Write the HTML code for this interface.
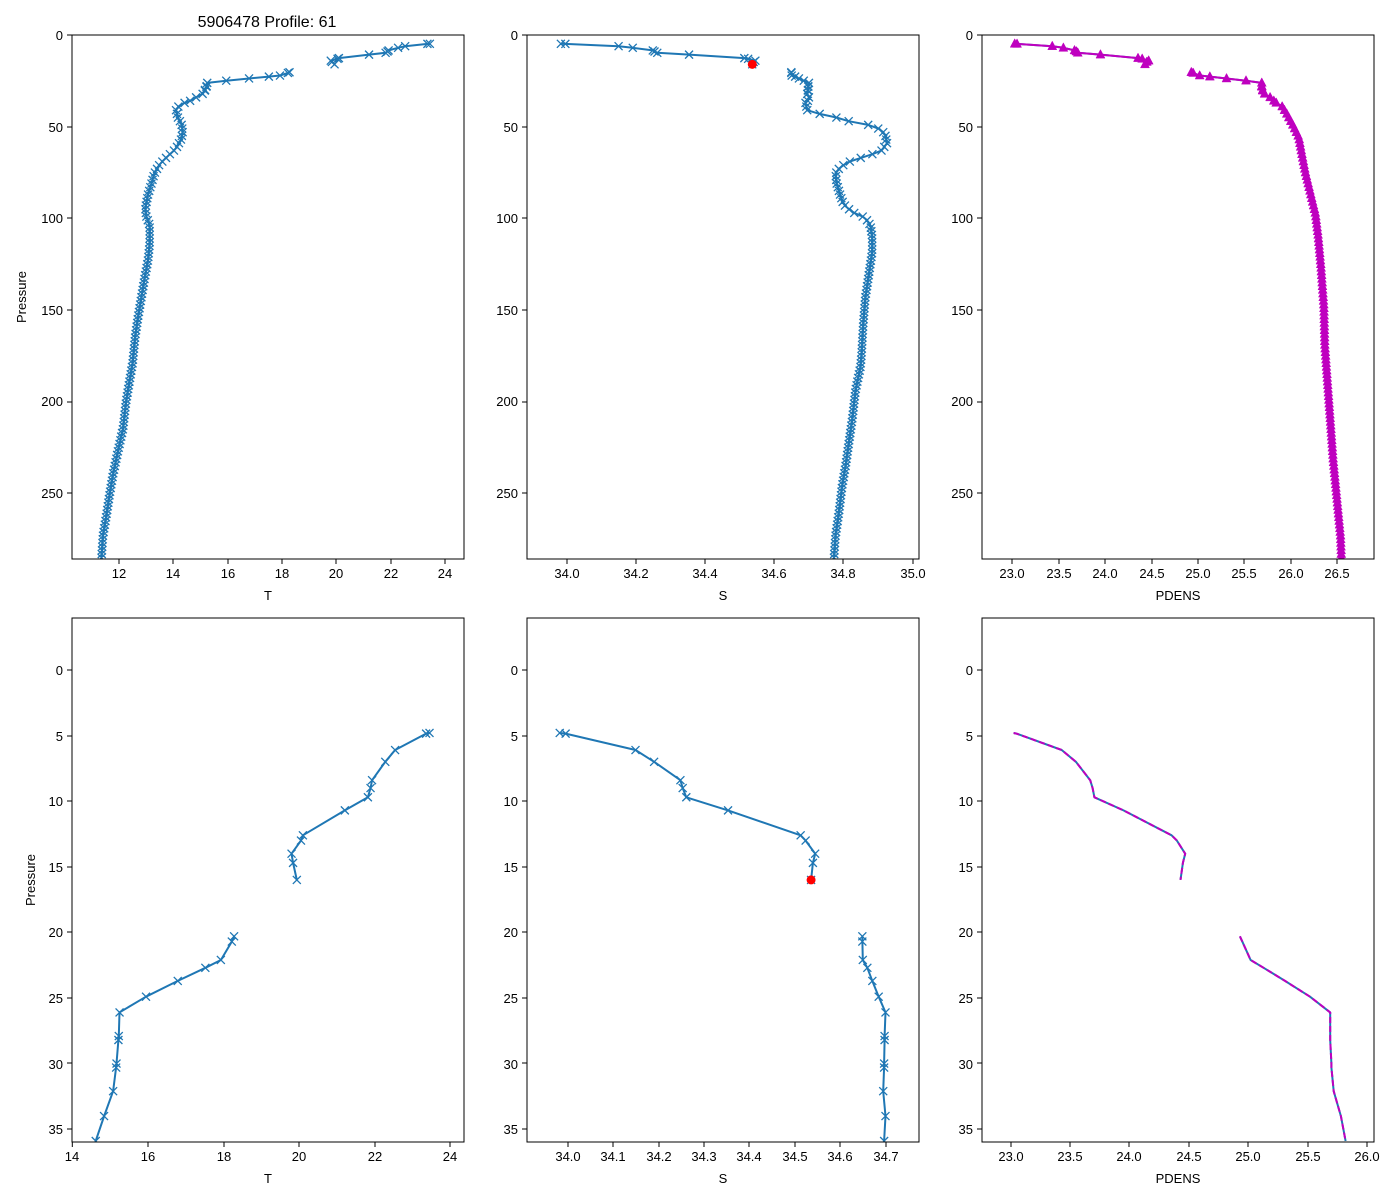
<!DOCTYPE html>
<html><head><meta charset="utf-8"><style>
body{margin:0;background:#fff}
svg{display:block}
text{font-family:"Liberation Sans","DejaVu Sans",sans-serif;font-size:13px;fill:#000}
</style></head><body>
<svg id="s" width="1400" height="1200" xmlns="http://www.w3.org/2000/svg">
<rect width="1400" height="1200" fill="#fff"/>
<text x="267" y="27" text-anchor="middle" style="font-size:16px">5906478 Profile: 61</text>
<text transform="translate(26,297) rotate(-90)" text-anchor="middle">Pressure</text>
<text transform="translate(35,880) rotate(-90)" text-anchor="middle">Pressure</text>
<text x="268" y="600" text-anchor="middle">T</text>
<text x="723" y="600" text-anchor="middle">S</text>
<text x="1178" y="600" text-anchor="middle">PDENS</text>
<text x="268" y="1183" text-anchor="middle">T</text>
<text x="723" y="1183" text-anchor="middle">S</text>
<text x="1178" y="1183" text-anchor="middle">PDENS</text>
<g id="ticks" stroke="#000" stroke-width="1"></g>
<g id="lbl">
<!-- top x labels -->
<text x="119" y="578" text-anchor="middle">12</text><text x="173" y="578" text-anchor="middle">14</text><text x="228" y="578" text-anchor="middle">16</text><text x="282" y="578" text-anchor="middle">18</text><text x="336" y="578" text-anchor="middle">20</text><text x="391" y="578" text-anchor="middle">22</text><text x="445" y="578" text-anchor="middle">24</text>
<text x="567" y="578" text-anchor="middle">34.0</text><text x="636" y="578" text-anchor="middle">34.2</text><text x="705" y="578" text-anchor="middle">34.4</text><text x="774" y="578" text-anchor="middle">34.6</text><text x="843" y="578" text-anchor="middle">34.8</text><text x="913" y="578" text-anchor="middle">35.0</text>
<text x="1012" y="578" text-anchor="middle">23.0</text><text x="1059" y="578" text-anchor="middle">23.5</text><text x="1105" y="578" text-anchor="middle">24.0</text><text x="1152" y="578" text-anchor="middle">24.5</text><text x="1198" y="578" text-anchor="middle">25.0</text><text x="1244" y="578" text-anchor="middle">25.5</text><text x="1291" y="578" text-anchor="middle">26.0</text><text x="1337" y="578" text-anchor="middle">26.5</text>
<!-- bottom x labels -->
<text x="72" y="1161" text-anchor="middle">14</text><text x="148" y="1161" text-anchor="middle">16</text><text x="224" y="1161" text-anchor="middle">18</text><text x="299" y="1161" text-anchor="middle">20</text><text x="375" y="1161" text-anchor="middle">22</text><text x="450" y="1161" text-anchor="middle">24</text>
<text x="568" y="1161" text-anchor="middle">34.0</text><text x="613" y="1161" text-anchor="middle">34.1</text><text x="659" y="1161" text-anchor="middle">34.2</text><text x="704" y="1161" text-anchor="middle">34.3</text><text x="749" y="1161" text-anchor="middle">34.4</text><text x="795" y="1161" text-anchor="middle">34.5</text><text x="840" y="1161" text-anchor="middle">34.6</text><text x="886" y="1161" text-anchor="middle">34.7</text>
<text x="1011" y="1161" text-anchor="middle">23.0</text><text x="1070" y="1161" text-anchor="middle">23.5</text><text x="1129" y="1161" text-anchor="middle">24.0</text><text x="1189" y="1161" text-anchor="middle">24.5</text><text x="1248" y="1161" text-anchor="middle">25.0</text><text x="1308" y="1161" text-anchor="middle">25.5</text><text x="1367" y="1161" text-anchor="middle">26.0</text>
<!-- top y labels -->
<text x="63" y="40" text-anchor="end">0</text><text x="63" y="132" text-anchor="end">50</text><text x="63" y="223" text-anchor="end">100</text><text x="63" y="315" text-anchor="end">150</text><text x="63" y="406" text-anchor="end">200</text><text x="63" y="498" text-anchor="end">250</text>
<text x="518" y="40" text-anchor="end">0</text><text x="518" y="132" text-anchor="end">50</text><text x="518" y="223" text-anchor="end">100</text><text x="518" y="315" text-anchor="end">150</text><text x="518" y="406" text-anchor="end">200</text><text x="518" y="498" text-anchor="end">250</text>
<text x="973" y="40" text-anchor="end">0</text><text x="973" y="132" text-anchor="end">50</text><text x="973" y="223" text-anchor="end">100</text><text x="973" y="315" text-anchor="end">150</text><text x="973" y="406" text-anchor="end">200</text><text x="973" y="498" text-anchor="end">250</text>
<!-- bottom y labels -->
<text x="63" y="675" text-anchor="end">0</text><text x="63" y="741" text-anchor="end">5</text><text x="63" y="806" text-anchor="end">10</text><text x="63" y="872" text-anchor="end">15</text><text x="63" y="937" text-anchor="end">20</text><text x="63" y="1003" text-anchor="end">25</text><text x="63" y="1069" text-anchor="end">30</text><text x="63" y="1134" text-anchor="end">35</text>
<text x="518" y="675" text-anchor="end">0</text><text x="518" y="741" text-anchor="end">5</text><text x="518" y="806" text-anchor="end">10</text><text x="518" y="872" text-anchor="end">15</text><text x="518" y="937" text-anchor="end">20</text><text x="518" y="1003" text-anchor="end">25</text><text x="518" y="1069" text-anchor="end">30</text><text x="518" y="1134" text-anchor="end">35</text>
<text x="973" y="675" text-anchor="end">0</text><text x="973" y="741" text-anchor="end">5</text><text x="973" y="806" text-anchor="end">10</text><text x="973" y="872" text-anchor="end">15</text><text x="973" y="937" text-anchor="end">20</text><text x="973" y="1003" text-anchor="end">25</text><text x="973" y="1069" text-anchor="end">30</text><text x="973" y="1134" text-anchor="end">35</text>
</g>
<g id="data"></g>
<g fill="none" stroke="#000" stroke-width="1">
<rect x="72" y="35" width="392" height="524"/><rect x="527" y="35" width="392" height="524"/><rect x="982" y="35" width="392" height="524"/>
<rect x="72" y="618" width="392" height="524"/><rect x="527" y="618" width="392" height="524"/><rect x="982" y="618" width="392" height="524"/>
</g>
</svg>
<script>
var NS="http://www.w3.org/2000/svg";
function el(p,t,a){var e=document.createElementNS(NS,t);for(var k in a)e.setAttribute(k,a[k]);p.appendChild(e);return e;}
var tk=document.getElementById("ticks");
function xt(xs,yb){xs.forEach(function(x){el(tk,"line",{x1:x,x2:x,y1:yb,y2:yb+5});});}
function yt(ys,xl){ys.forEach(function(y){el(tk,"line",{x1:xl,x2:xl-5,y1:y,y2:y});});}
xt([119,173,228,282,336,391,445,567,636,705,774,843,913,1012,1059,1105,1152,1198,1244,1291,1337],559);
xt([72.3,148,224,299,375,450,568,613,659,704,749,795,840,886,1011,1070,1129,1189,1248,1308,1367],1142);
[72,527,982].forEach(function(xl){yt([35,127,218,310,402,493],xl);yt([670,736,801,867,932,998,1063,1129],xl);});

// shallow data [p,T,S,D]
var sh1=[[4.8,23.45,33.982,23.025],[4.85,23.36,33.995,23.05],[6.1,22.54,34.149,23.43],[7.0,22.28,34.19,23.55],[8.4,21.93,34.248,23.67],[9.0,21.89,34.253,23.69],[9.7,21.82,34.261,23.705],[10.7,21.21,34.353,23.95],[12.6,20.1,34.513,24.355],[13.0,20.05,34.524,24.4],[14.0,19.8,34.545,24.47],[14.7,19.84,34.540,24.45],[16.0,19.94,34.536,24.43]];
var sh2=[[20.3,18.28,34.649,24.93],[20.7,18.22,34.649,24.95],[22.1,17.93,34.650,25.02],[22.7,17.52,34.66,25.13],[23.7,16.79,34.671,25.31],[24.9,15.95,34.685,25.52],[26.1,15.25,34.70,25.69],[27.9,15.23,34.698,25.69],[28.2,15.22,34.698,25.69],[30.0,15.17,34.697,25.70],[30.3,15.16,34.697,25.70],[32.1,15.08,34.695,25.72],[34.0,14.84,34.70,25.78],[35.9,14.62,34.697,25.82]];
var dT=[[35.9,14.62],[38,14.23],[41,14.1],[45,14.17],[48.5,14.3],[52.6,14.35],[56.8,14.29],[62,14.1],[66,13.8],[70.4,13.5],[75.6,13.3],[80.8,13.2],[87,13.07],[94.4,12.97],[98.6,13.0],[103.8,13.13],[114,13.13],[122.6,13.07],[133,12.94],[143.5,12.82],[154,12.7],[164,12.6],[179,12.5],[189.4,12.38],[200,12.26],[214.5,12.15],[227,11.96],[239.6,11.78],[250,11.66],[262.5,11.53],[273,11.41],[286,11.35]];
var dS=[[35.9,34.697],[37,34.69],[41,34.695],[42.6,34.72],[44.3,34.767],[47,34.815],[48.5,34.863],[50.5,34.897],[53.7,34.92],[59,34.926],[63,34.91],[65.8,34.873],[68.3,34.825],[72,34.79],[75.6,34.777],[80.8,34.78],[87,34.79],[92.3,34.80],[96.5,34.825],[99.6,34.863],[103.8,34.878],[110,34.883],[118.4,34.883],[131,34.873],[143.5,34.863],[158,34.857],[175,34.852],[181,34.849],[193.6,34.835],[210,34.825],[223,34.815],[235,34.806],[246,34.796],[260,34.787],[273,34.777],[286,34.772]];
var dD=[[35.9,25.82],[36.5,25.83],[39,25.91],[43,25.96],[49.5,26.03],[55.8,26.09],[64,26.12],[74.6,26.16],[85,26.21],[97.5,26.27],[110,26.30],[126.8,26.33],[147.7,26.36],[168.5,26.37],[189.4,26.40],[210,26.43],[231,26.46],[252,26.50],[273,26.54],[286,26.55]];
function interp(arr,p){for(var i=1;i<arr.length;i++){if(p<=arr[i][0]){var a=arr[i-1],b=arr[i],f=(p-a[0])/(b[0]-a[0]);return a[1]+f*(b[1]-a[1]);}}return arr[arr.length-1][1];}
function deep(arr){var r=[];for(var p=37;p<=286;p+=2)r.push([p,interp(arr,p)]);return r;}
function seg(idx,arr){return arr.map(function(r){return [r[0],r[idx]];});}
var g=document.getElementById("data");
var C="#1f77b4";
function plot(pts,fx,fy,clip,opts){
  var gg=el(g,"g",{"clip-path":"url(#"+clip+")"});
  var d=pts.map(function(q,i){return (i?"L":"M")+fx(q[1]).toFixed(1)+" "+fy(q[0]).toFixed(1);}).join("");
  if(opts.line2) el(gg,"path",{d:d,fill:"none",stroke:opts.line2,"stroke-width":2,"stroke-linejoin":"round"});
  el(gg,"path",{d:d,fill:"none",stroke:opts.col,"stroke-width":2,"stroke-linejoin":"round","stroke-dasharray":opts.dash||"none"});
  if(opts.mk=="x"){var m="";pts.forEach(function(q){var x=fx(q[1]),y=fy(q[0]);m+="M"+(x-4)+" "+(y-4)+"L"+(x+4)+" "+(y+4)+"M"+(x-4)+" "+(y+4)+"L"+(x+4)+" "+(y-4);});el(gg,"path",{d:m,stroke:C,"stroke-width":1.3,fill:"none"});}
  if(opts.mk=="^"){var m2="";pts.forEach(function(q){var x=fx(q[1]),y=fy(q[0]);m2+="M"+x+" "+(y-5)+"L"+(x+4.5)+" "+(y+3.5)+"L"+(x-4.5)+" "+(y+3.5)+"Z";});el(gg,"path",{d:m2,fill:"#bf00bf",stroke:"#bf00bf","stroke-width":0.5});}
}
var defs=el(document.getElementById("s"),"defs",{});
[["c1",72,35],["c2",527,35],["c3",982,35],["c4",72,618],["c5",527,618],["c6",982,618]].forEach(function(c){var cp=el(defs,"clipPath",{id:c[0]});el(cp,"rect",{x:c[1],y:c[2],width:392,height:524});});
var yT=function(p){return 35+p*1.834;}, yB=function(p){return 670+p*13.12;};
var fT1=function(v){return 119+(v-12)*27.15;}, fS1=function(v){return 567.1+(v-34)*345.5;}, fD1=function(v){return 1012.4+(v-23)*92.7;};
var fT2=function(v){return 72.3+(v-14)*37.8;}, fS2=function(v){return 567.9+(v-34)*453.7;}, fD2=function(v){return 1010.6+(v-23)*118.8;};
[[1,fT1,fT2,dT,"c1","c4"],[2,fS1,fS2,dS,"c2","c5"],[3,fD1,fD2,dD,"c3","c6"]].forEach(function(v){
  var a=seg(v[0],sh1), b=seg(v[0],sh2).concat(deep(v[3]));
  var top=v[0]==3?{col:"#bf00bf",line2:C,mk:"^"}:{col:C,mk:"x"};
  var bot=v[0]==3?{col:"#bf00bf",line2:C,dash:"6 3",mk:""}:{col:C,mk:"x"};
  plot(a,v[1],yT,v[4],top);plot(b,v[1],yT,v[4],top);
  plot(a,v[2],yB,v[5],bot);plot(seg(v[0],sh2),v[2],yB,v[5],bot);
});
el(g,"circle",{cx:fS1(34.536),cy:yT(16),r:4.5,fill:"#ff0000"});
el(g,"circle",{cx:fS2(34.536),cy:yB(16),r:4.5,fill:"#ff0000"});
</script>
</body></html>
